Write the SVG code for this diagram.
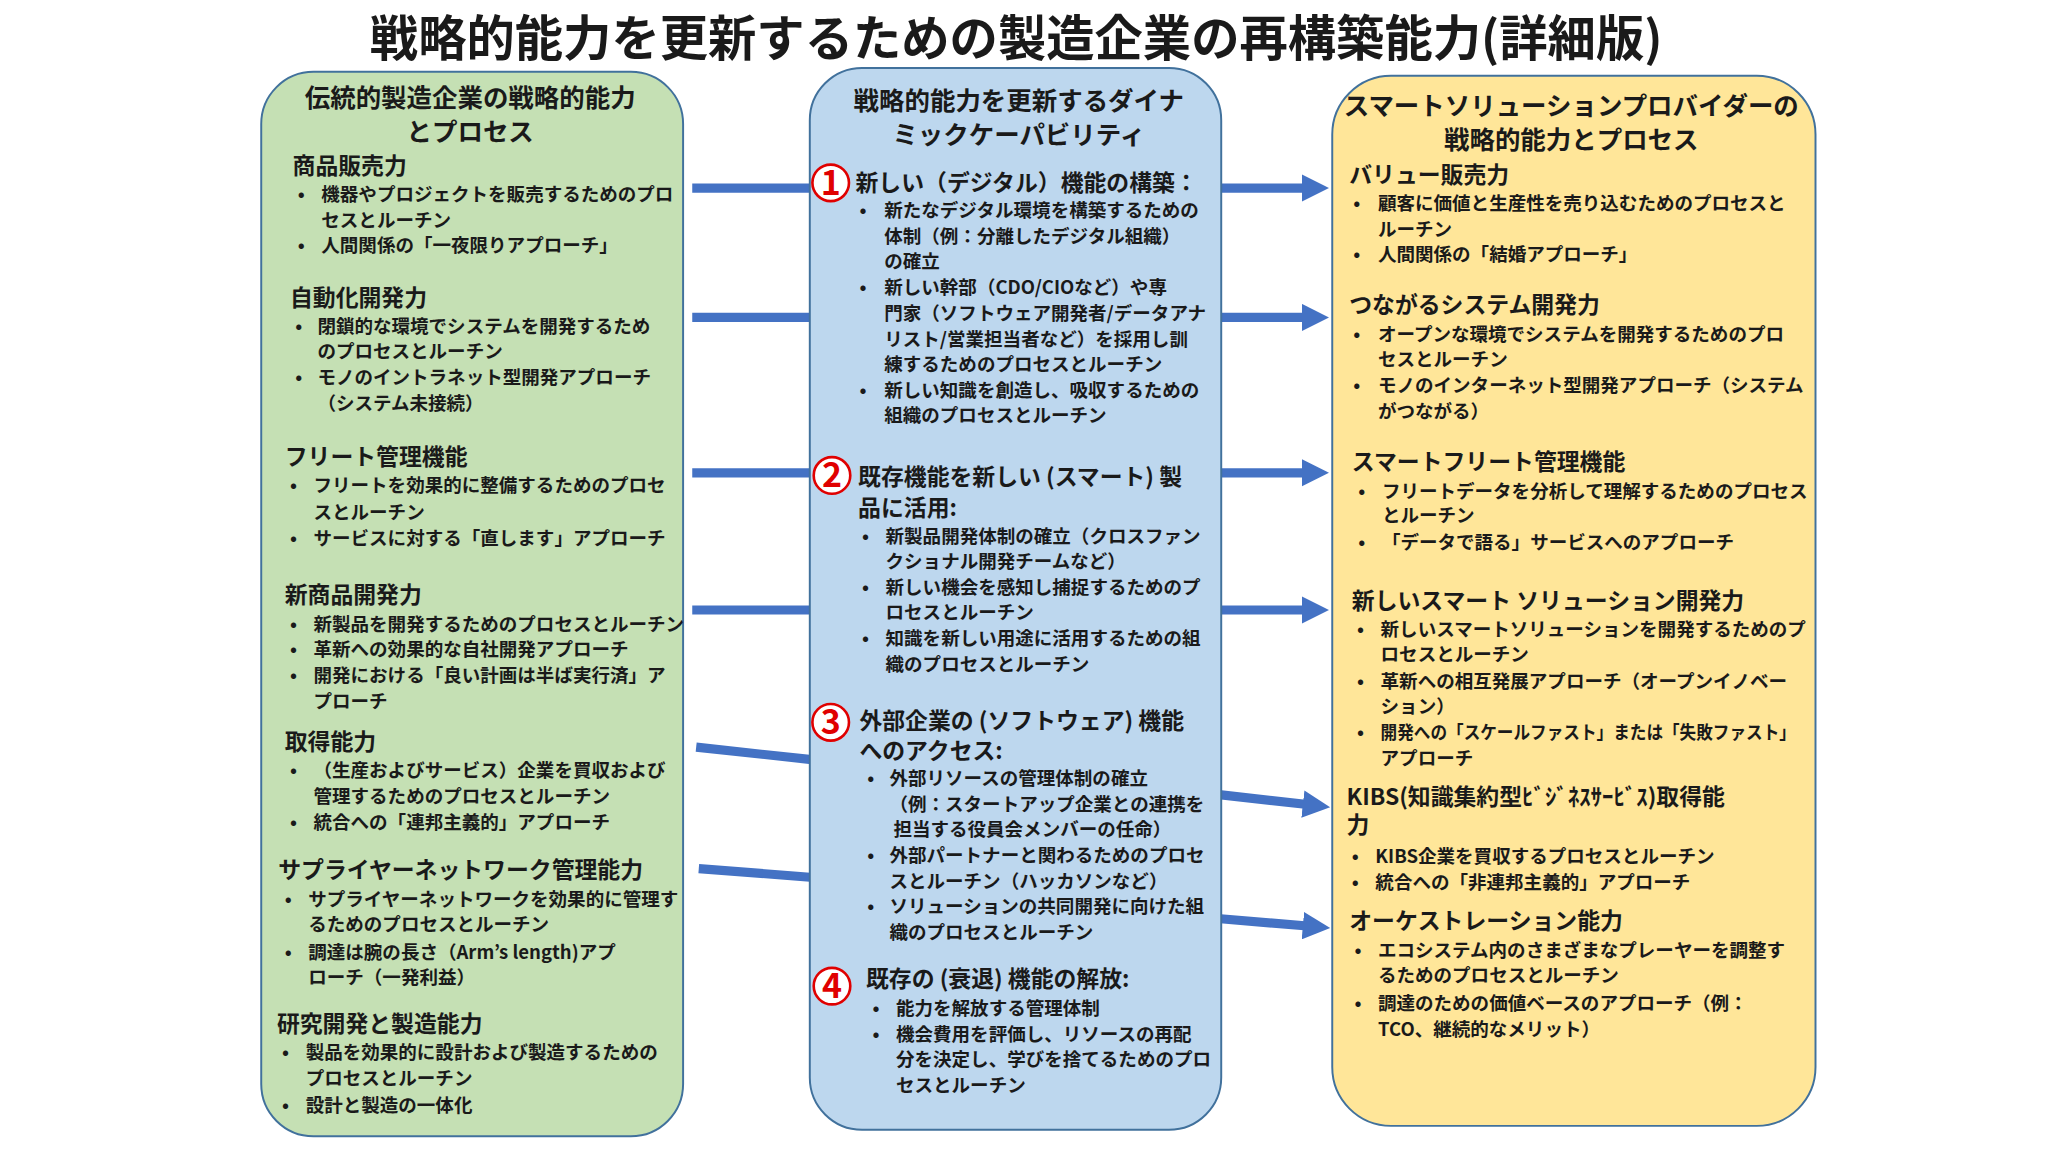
<svg xmlns="http://www.w3.org/2000/svg" width="2048" height="1152" viewBox="0 0 2048 1152">
<style>
text{font-family:"Noto Sans CJK JP","Noto Sans",sans-serif;font-weight:bold;fill:#1a1a1a}
.t{font-size:37px}
.h{font-size:19.5px}
.s{font-size:17.5px}
.b{font-size:14.2px}
.n{font-size:26px;fill:#e00000;font-weight:bold}
.c{fill:#fff;stroke:#e00000;stroke-width:2}
.bar{stroke:#4472C4;stroke-width:7;fill:none}
</style>
<defs>
<marker id="ah" markerWidth="3" markerHeight="3" refX="0.5" refY="1.5" orient="auto" markerUnits="strokeWidth"><path d="M0,0L3,1.5L0,3z" fill="#4472C4"/></marker>
</defs>
<rect width="2048" height="1152" fill="#fff"/>
<g transform="scale(1.30612)">
<text class="t" x="778" y="43" text-anchor="middle">戦略的能力を更新するための製造企業の再構築能力(詳細版)</text>
<g id="connectors">
<line class="bar" x1="530" y1="144" x2="625" y2="144"/>
<line class="bar" x1="530" y1="243" x2="625" y2="243"/>
<line class="bar" x1="530" y1="362" x2="625" y2="362"/>
<line class="bar" x1="530" y1="467" x2="625" y2="467"/>
<line class="bar" x1="533" y1="572" x2="625" y2="582"/>
<line class="bar" x1="535" y1="665" x2="625" y2="672"/>
<line class="bar" x1="930" y1="144" x2="1000" y2="144" marker-end="url(#ah)"/>
<line class="bar" x1="930" y1="243" x2="1000" y2="243" marker-end="url(#ah)"/>
<line class="bar" x1="930" y1="362" x2="1000" y2="362" marker-end="url(#ah)"/>
<line class="bar" x1="930" y1="467" x2="1000" y2="467" marker-end="url(#ah)"/>
<line class="bar" x1="930" y1="608" x2="1001" y2="616" marker-end="url(#ah)"/>
<line class="bar" x1="930" y1="703" x2="1001" y2="709" marker-end="url(#ah)"/>
</g>
<g id="left">
<rect x="200" y="55" width="323" height="815" rx="40" fill="#C5E0B4" stroke="#41719C" stroke-width="1.5"/>
<text class="h" x="360" y="82" text-anchor="middle">伝統的製造企業の戦略的能力</text>
<text class="h" x="360" y="108" text-anchor="middle">とプロセス</text>
<text class="s" x="224" y="133">商品販売力</text>
<text class="b" x="228" y="154">•</text><text class="b" x="246" y="154">機器やプロジェクトを販売するためのプロ</text>
<text class="b" x="246" y="174">セスとルーチン</text>
<text class="b" x="228" y="193">•</text><text class="b" x="246" y="193">人間関係の「一夜限りアプローチ」</text>
<text class="s" x="222" y="234">自動化開発力</text>
<text class="b" x="226" y="255">•</text><text class="b" x="243" y="255">閉鎖的な環境でシステムを開発するため</text>
<text class="b" x="243" y="274">のプロセスとルーチン</text>
<text class="b" x="226" y="294">•</text><text class="b" x="243" y="294">モノのイントラネット型開発アプローチ</text>
<text class="b" x="243" y="314">（システム未接続）</text>
<text class="s" x="218" y="356">フリート管理機能</text>
<text class="b" x="222" y="377">•</text><text class="b" x="240" y="377">フリートを効果的に整備するためのプロセ</text>
<text class="b" x="240" y="397">スとルーチン</text>
<text class="b" x="222" y="417">•</text><text class="b" x="240" y="417">サービスに対する「直します」アプローチ</text>
<text class="s" x="218" y="462">新商品開発力</text>
<text class="b" x="222" y="483">•</text><text class="b" x="240" y="483">新製品を開発するためのプロセスとルーチン</text>
<text class="b" x="222" y="502">•</text><text class="b" x="240" y="502">革新への効果的な自社開発アプローチ</text>
<text class="b" x="222" y="522">•</text><text class="b" x="240" y="522">開発における「良い計画は半ば実行済」ア</text>
<text class="b" x="240" y="542">プローチ</text>
<text class="s" x="218" y="574">取得能力</text>
<text class="b" x="222" y="595">•</text><text class="b" x="240" y="595">（生産およびサービス）企業を買収および</text>
<text class="b" x="240" y="615">管理するためのプロセスとルーチン</text>
<text class="b" x="222" y="635">•</text><text class="b" x="240" y="635">統合への「連邦主義的」アプローチ</text>
<text class="s" x="213" y="672">サプライヤーネットワーク管理能力</text>
<text class="b" x="218" y="694">•</text><text class="b" x="236" y="694">サプライヤーネットワークを効果的に管理す</text>
<text class="b" x="236" y="713">るためのプロセスとルーチン</text>
<text class="b" x="218" y="734">•</text><text class="b" x="236" y="734">調達は腕の長さ（Arm’s length)アプ</text>
<text class="b" x="236" y="753">ローチ（一発利益）</text>
<text class="s" x="212" y="790">研究開発と製造能力</text>
<text class="b" x="216" y="811">•</text><text class="b" x="234" y="811">製品を効果的に設計および製造するための</text>
<text class="b" x="234" y="831">プロセスとルーチン</text>
<text class="b" x="216" y="851">•</text><text class="b" x="234" y="851">設計と製造の一体化</text>
</g>
<g id="middle">
<rect x="620" y="52" width="315" height="813" rx="40" fill="#BDD7EE" stroke="#41719C" stroke-width="1.5"/>
<text class="h" x="780" y="84" text-anchor="middle">戦略的能力を更新するダイナ</text>
<text class="h" x="780" y="110" text-anchor="middle">ミックケーパビリティ</text>
<circle class="c" cx="636" cy="140" r="14"/><text class="n" x="636" y="149" text-anchor="middle">1</text>
<text class="s" x="655" y="146">新しい（デジタル）機能の構築：</text>
<text class="b" x="658" y="166">•</text><text class="b" x="677" y="166">新たなデジタル環境を構築するための</text>
<text class="b" x="677" y="186">体制（例：分離したデジタル組織）</text>
<text class="b" x="677" y="205">の確立</text>
<text class="b" x="658" y="225">•</text><text class="b" x="677" y="225">新しい幹部（CDO/CIOなど）や専</text>
<text class="b" x="677" y="245">門家（ソフトウェア開発者/データアナ</text>
<text class="b" x="677" y="265">リスト/営業担当者など）を採用し訓</text>
<text class="b" x="677" y="284">練するためのプロセスとルーチン</text>
<text class="b" x="658" y="304">•</text><text class="b" x="677" y="304">新しい知識を創造し、吸収するための</text>
<text class="b" x="677" y="323">組織のプロセスとルーチン</text>
<circle class="c" cx="637" cy="364" r="14"/><text class="n" x="637" y="373" text-anchor="middle">2</text>
<text class="s" x="657" y="371">既存機能を新しい (スマート) 製</text>
<text class="s" x="657" y="395">品に活用:</text>
<text class="b" x="660" y="416">•</text><text class="b" x="678" y="416">新製品開発体制の確立（クロスファン</text>
<text class="b" x="678" y="435">クショナル開発チームなど）</text>
<text class="b" x="660" y="455">•</text><text class="b" x="678" y="455">新しい機会を感知し捕捉するためのプ</text>
<text class="b" x="678" y="474">ロセスとルーチン</text>
<text class="b" x="660" y="494">•</text><text class="b" x="678" y="494">知識を新しい用途に活用するための組</text>
<text class="b" x="678" y="514">織のプロセスとルーチン</text>
<circle class="c" cx="636" cy="553" r="14"/><text class="n" x="636" y="562" text-anchor="middle">3</text>
<text class="s" x="658" y="558">外部企業の (ソフトウェア) 機能</text>
<text class="s" x="658" y="581">へのアクセス:</text>
<text class="b" x="664" y="601">•</text><text class="b" x="681" y="601">外部リソースの管理体制の確立</text>
<text class="b" x="681" y="621">（例：スタートアップ企業との連携を</text>
<text class="b" x="684" y="640">担当する役員会メンバーの任命）</text>
<text class="b" x="664" y="660">•</text><text class="b" x="681" y="660">外部パートナーと関わるためのプロセ</text>
<text class="b" x="681" y="680">スとルーチン（ハッカソンなど）</text>
<text class="b" x="664" y="699">•</text><text class="b" x="681" y="699">ソリューションの共同開発に向けた組</text>
<text class="b" x="681" y="719">織のプロセスとルーチン</text>
<circle class="c" cx="637" cy="755" r="14"/><text class="n" x="637" y="764" text-anchor="middle">4</text>
<text class="s" x="663" y="756">既存の (衰退) 機能の解放:</text>
<text class="b" x="668" y="777">•</text><text class="b" x="686" y="777">能力を解放する管理体制</text>
<text class="b" x="668" y="797">•</text><text class="b" x="686" y="797">機会費用を評価し、リソースの再配</text>
<text class="b" x="686" y="816">分を決定し、学びを捨てるためのプロ</text>
<text class="b" x="686" y="836">セスとルーチン</text>
</g>
<g id="right">
<rect x="1020" y="58" width="370" height="804" rx="45" fill="#FFE699" stroke="#41719C" stroke-width="1.5"/>
<text class="h" x="1203" y="88" text-anchor="middle">スマートソリューションプロバイダーの</text>
<text class="h" x="1203" y="114" text-anchor="middle">戦略的能力とプロセス</text>
<text class="s" x="1033" y="140">バリュー販売力</text>
<text class="b" x="1036" y="161">•</text><text class="b" x="1055" y="161">顧客に価値と生産性を売り込むためのプロセスと</text>
<text class="b" x="1055" y="181">ルーチン</text>
<text class="b" x="1036" y="200">•</text><text class="b" x="1055" y="200">人間関係の「結婚アプローチ」</text>
<text class="s" x="1033" y="240">つながるシステム開発力</text>
<text class="b" x="1036" y="261">•</text><text class="b" x="1055" y="261">オープンな環境でシステムを開発するためのプロ</text>
<text class="b" x="1055" y="280">セスとルーチン</text>
<text class="b" x="1036" y="300">•</text><text class="b" x="1055" y="300">モノのインターネット型開発アプローチ（システム</text>
<text class="b" x="1055" y="320">がつながる）</text>
<text class="s" x="1035" y="360">スマートフリート管理機能</text>
<text class="b" x="1040" y="381">•</text><text class="b" x="1058" y="381">フリートデータを分析して理解するためのプロセス</text>
<text class="b" x="1058" y="400">とルーチン</text>
<text class="b" x="1040" y="420">•</text><text class="b" x="1058" y="420">「データで語る」サービスへのアプローチ</text>
<text class="s" x="1035" y="466">新しいスマート ソリューション開発力</text>
<text class="b" x="1039" y="487">•</text><text class="b" x="1057" y="487">新しいスマートソリューションを開発するためのプ</text>
<text class="b" x="1057" y="506">ロセスとルーチン</text>
<text class="b" x="1039" y="527">•</text><text class="b" x="1057" y="527">革新への相互発展アプローチ（オープンイノベー</text>
<text class="b" x="1057" y="546">ション）</text>
<text class="b" x="1039" y="566">•</text><text class="b" x="1057" y="566" textLength="318" lengthAdjust="spacingAndGlyphs">開発への「スケールファスト」または「失敗ファスト」</text>
<text class="b" x="1057" y="586">アプローチ</text>
<text class="s" x="1031" y="616">KIBS(知識集約型ﾋﾞｼﾞﾈｽｻｰﾋﾞｽ)取得能</text>
<text class="s" x="1031" y="638">力</text>
<text class="b" x="1035" y="661">•</text><text class="b" x="1053" y="661">KIBS企業を買収するプロセスとルーチン</text>
<text class="b" x="1035" y="681">•</text><text class="b" x="1053" y="681">統合への「非連邦主義的」アプローチ</text>
<text class="s" x="1033" y="711">オーケストレーション能力</text>
<text class="b" x="1037" y="733">•</text><text class="b" x="1055" y="733">エコシステム内のさまざまなプレーヤーを調整す</text>
<text class="b" x="1055" y="752">るためのプロセスとルーチン</text>
<text class="b" x="1037" y="773">•</text><text class="b" x="1055" y="773">調達のための価値ベースのアプローチ（例：</text>
<text class="b" x="1055" y="793">TCO、継続的なメリット）</text>
</g>
</g>
</svg>
